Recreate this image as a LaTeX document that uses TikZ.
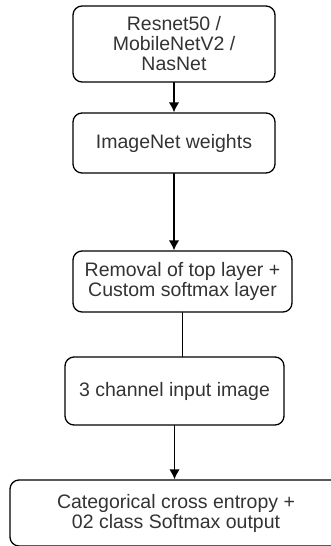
\documentclass[tikz,border=0pt]{standalone}
\usepackage{fontspec}
\setmainfont{Liberation Sans}
\usetikzlibrary{arrows.meta}
\begin{document}
\begin{tikzpicture}[x=1pt,y=-1pt,line cap=round,line join=round,>={Latex[length=10pt,width=10.5pt]},
  stage/.style={draw,line width=1.3pt,rounded corners=9pt,align=center,inner sep=0pt,
    text=black!80,font=\fontsize{19.5}{20}\selectfont},
  link/.style={line width=1.4pt}]
  \useasboundingbox (0,0) rectangle (331,546);
  \node[stage,minimum width=202pt,minimum height=76pt] (b1) at (174,44) {Resnet50 /\\MobileNetV2 /\\NasNet};
  \node[stage,minimum width=202pt,minimum height=60pt] (b2) at (174,143) {ImageNet weights};
  \node[stage,minimum width=219pt,minimum height=61pt] (b3) at (182.5,281.5) {Removal of top layer +\\Custom softmax layer};
  \node[stage,minimum width=219pt,minimum height=68pt] (b4) at (174.5,391) {3 channel input image};
  \node[stage,minimum width=332pt,minimum height=66pt] (b5) at (176,513) {Categorical cross entropy +\\02 class Softmax output};
  \draw[link,->] (b1) -- (b2);
  \draw[link,->] (b2.south) -- (b2.south |- b3.north);
  \draw[link] (b3.south) -- (b3.south |- b4.north);
  \draw[link,->] (b4.south) -- (b4.south |- b5.north);
\end{tikzpicture}
\end{document}
